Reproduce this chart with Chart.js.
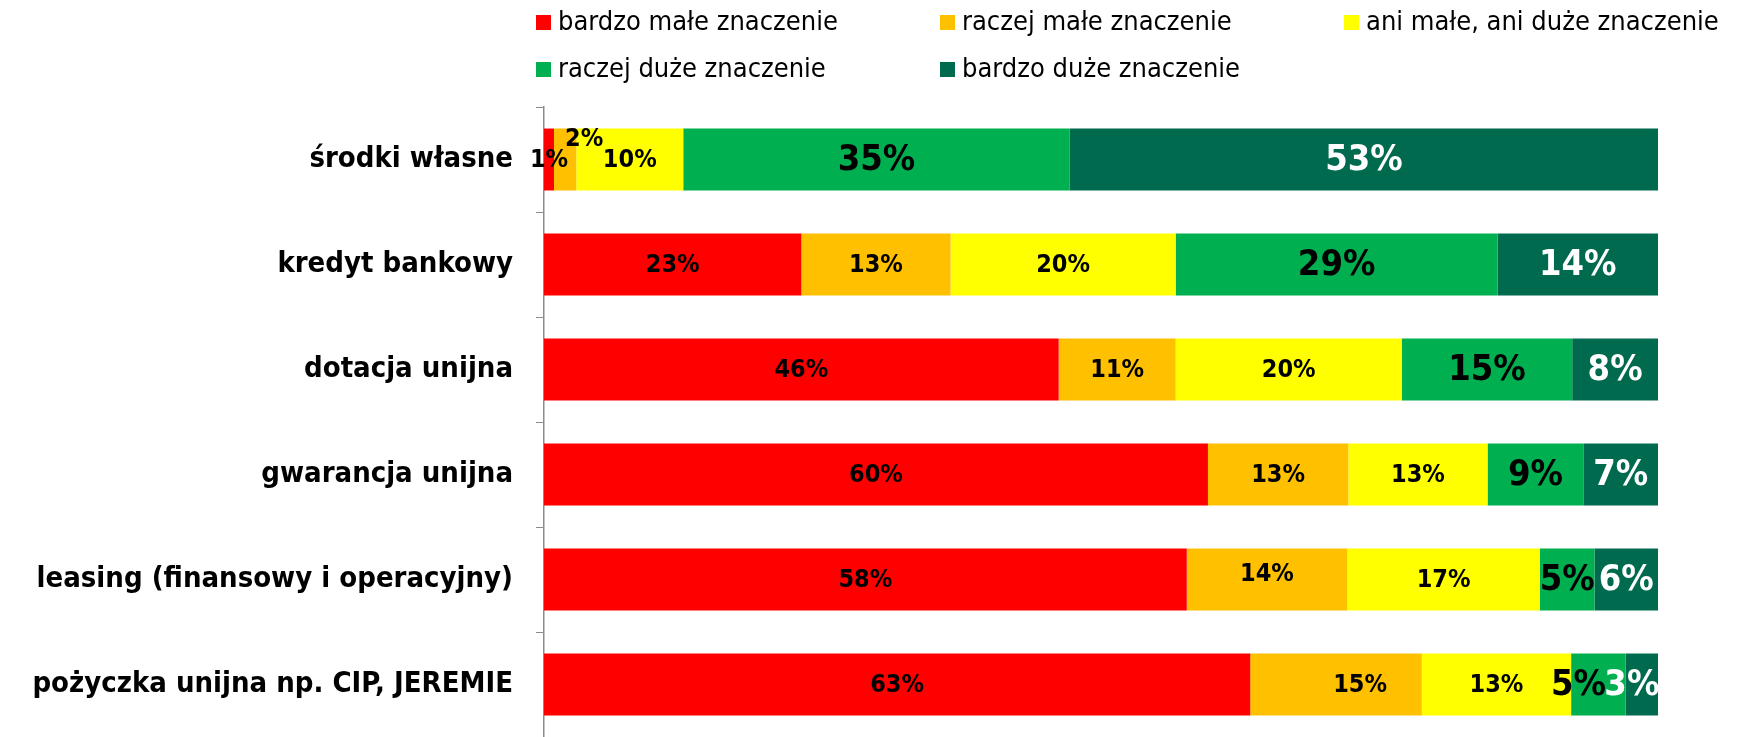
<!DOCTYPE html>
<html>
<head>
<meta charset="utf-8">
<script src="https://cdn.jsdelivr.net/npm/chart.js@4.4.1/dist/chart.umd.min.js"></script>
<style>
  body { margin: 0; background: #fff; }
  #wrap { width: 1737px; height: 737px; position: relative; }
</style>
</head>
<body>
<div id="wrap"><canvas id="chart"></canvas></div>
<script>
// source categories (top to bottom)
const categories = [
  'środki własne',
  'kredyt bankowy',
  'dotacja unijna',
  'gwarancja unijna',
  'leasing (finansowy i operacyjny)',
  'pożyczka unijna np. CIP, JEREMIE'
];

const seriesNames = [
  'bardzo małe znaczenie',
  'raczej małe znaczenie',
  'ani małe, ani duże znaczenie',
  'raczej duże znaczenie',
  'bardzo duże znaczenie'
];

// shares in %
const bardzoMale  = [0.9, 23.1, 46.2, 59.6, 57.7, 63.4];
const raczejMale  = [2.0, 13.4, 10.5, 12.6, 14.4, 15.4];
const aniAni      = [9.6, 20.2, 20.3, 12.5, 17.3, 13.4];
const raczejDuze  = [34.7, 28.9, 15.3, 8.6, 4.9, 4.9];
const bardzoDuze  = [52.8, 14.4, 7.7, 6.7, 5.7, 2.9];

const colors = ['#FF0000', '#FFC000', '#FFFF00', '#00B050', '#006A4F'];
const FONT = "'DejaVu Sans Condensed', 'Liberation Sans Narrow', sans-serif";

// label look per series: [size, color]
const labelStyle = [
  [25, '#000'], [25, '#000'], [25, '#000'], [36, '#000'], [36, '#fff']
];
// hand-placed labels, like in the original sheet  "series,row": [dx, dy]
const labelNudge = {
  '1,0': [19, -21],
  '1,4': [0, -6],
  '1,5': [24, 0],
  '3,5': [-20, 0],
  '4,5': [-10, 0]
};

const valueLabels = {
  id: 'valueLabels',
  afterDatasetsDraw(chart) {
    const ctx = chart.ctx;
    ctx.save();
    ctx.textAlign = 'center';
    ctx.textBaseline = 'middle';
    chart.data.datasets.forEach((ds, i) => {
      const meta = chart.getDatasetMeta(i);
      meta.data.forEach((bar, j) => {
        const st = labelStyle[i];
        const n = labelNudge[i + ',' + j] || [0, 0];
        ctx.font = 'bold ' + st[0] + 'px ' + FONT;
        ctx.fillStyle = st[1];
        const cx = (bar.x + bar.base) / 2 + n[0];
        ctx.fillText(Math.round(ds.data[j]) + '%', cx, bar.y + n[1] + 1);
      });
    });
    ctx.restore();
  }
};

const legendBoxes = {
  id: 'legendBoxes',
  afterDraw(chart) {
    const ctx = chart.ctx;
    const cols = [536, 940, 1344];
    const rows = [22, 69];
    ctx.save();
    ctx.textBaseline = 'middle';
    ctx.textAlign = 'left';
    ctx.font = '27px ' + FONT;
    chart.data.datasets.forEach((ds, i) => {
      const x = cols[i % 3];
      const y = rows[Math.floor(i / 3)];
      ctx.fillStyle = ds.backgroundColor;
      ctx.fillRect(x, y - 7, 15, 15);
      ctx.fillStyle = '#000';
      ctx.fillText(ds.label, x + 22, y + 1);
    });
    ctx.restore();
  }
};

const seriesData = [bardzoMale, raczejMale, aniAni, raczejDuze, bardzoDuze];

new Chart(document.getElementById('chart').getContext('2d'), {
  type: 'bar',
  data: {
    labels: categories,
    datasets: seriesNames.map((name, i) => ({
      label: name,
      data: seriesData[i],
      backgroundColor: colors[i],
      borderWidth: 0,
      barPercentage: 0.59,
      categoryPercentage: 1
    }))
  },
  options: {
    indexAxis: 'y',
    responsive: true,
    maintainAspectRatio: false,
    animation: false,
    layout: { padding: { top: 107, right: 79, bottom: 0, left: 0 } },
    plugins: {
      legend: { display: false },
      tooltip: { enabled: false }
    },
    scales: {
      x: {
        stacked: true,
        min: 0,
        max: 100,
        display: false
      },
      y: {
        stacked: true,
        afterFit(scale) {
          scale.width = 544;
          scale.paddingTop = 0;
          scale.paddingBottom = 0;
        },
        grid: {
          offset: true,
          drawOnChartArea: false,
          tickLength: 8,
          color: '#8c8c8c'
        },
        border: { color: '#8c8c8c', width: 1.5 },
        ticks: {
          padding: 23,
          color: '#000',
          font: { family: FONT, size: 29, weight: 'bold' }
        }
      }
    }
  },
  plugins: [valueLabels, legendBoxes]
});
</script>
</body>
</html>
